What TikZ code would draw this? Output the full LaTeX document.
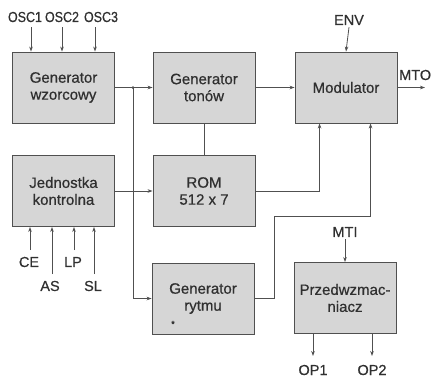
\documentclass[tikz,border=0pt]{standalone}
\usepackage{fontspec}
\setmainfont{Liberation Sans}[FakeBold=0.6]
\usetikzlibrary{arrows.meta,calc}
\definecolor{ln}{HTML}{505050}
\definecolor{bx}{HTML}{D6D6D6}
\definecolor{tx}{HTML}{303030}
\begin{document}
\begin{tikzpicture}[x=1pt,y=-1pt,
  blk/.style={draw=ln,line width=0.9pt,fill=bx,minimum width=102pt,minimum height=71pt,
    align=center,text=tx,font=\fontsize{15}{17}\selectfont,inner sep=0pt},
  lbl/.style={text=tx,font=\fontsize{14.5}{17}\selectfont,inner sep=0pt},
  osc/.style={lbl,xscale=0.86},
  wire/.style={draw=ln,line width=0.8pt},
  arr/.style={wire,-{Stealth[length=5pt,width=3.6pt]}}]
\useasboundingbox (0,0) rectangle (433,381);
% blocks
\node[blk] (gw) at (63.5,87.5) {Generator\\wzorcowy};
\node[blk] (gt) at (204,87.5) {Generator\\tonów};
\node[blk] (mod) at (346,87.5) {Modulator};
\node[blk] (jk) at (63.5,191) {Jednostka\\kontrolna};
\node[blk] (rom) at (204,191) {ROM\\512 x 7};
\node[blk] (gr) at (203,298.5) {Generator\\rytmu};
\node[blk] (pw) at (345,298) {Przedwzmac-\\niacz};
\node[text=tx,font=\small,inner sep=0pt] (star) at (173,324) {*};
% labels
\node[osc] (o1) at (25,17) {OSC1};
\node[osc] (o2) at (62,17) {OSC2};
\node[osc] (o3) at (101,17) {OSC3};
\node[lbl] (env) at (349,20) {ENV};
\node[lbl,anchor=west] (mto) at (399,75) {MTO};
\node[lbl] (mti) at (345,232) {MTI};
\node[lbl] (ce) at (29,262) {CE};
\node[lbl] (lp) at (73,262) {LP};
\node[lbl] (as) at (50,286) {AS};
\node[lbl] (sl) at (93,286) {SL};
\node[lbl] (op1) at (313,370) {OP1};
\node[lbl] (op2) at (372,370) {OP2};
% coordinates
\coordinate (j) at (133,87.5);
\coordinate (m1) at ($(mod.south west)+(25,0)$);
\coordinate (m2) at ($(mod.south west)+(76,0)$);
\coordinate (b1) at (274,216);
\coordinate (mtoe) at (425,87.5);
\coordinate (s1) at (31,27);
\coordinate (s2) at (62,27);
\coordinate (s3) at (95,27);
\coordinate (c1) at (30,250);
\coordinate (c2) at (52,274);
\coordinate (c3) at (74,250);
\coordinate (c4) at (94,274);
\coordinate (p1) at (313,356);
\coordinate (p2) at (372,356);
% inputs OSC
\draw[arr] (s1) -- (s1 |- gw.north);
\draw[arr] (s2) -- (s2 |- gw.north);
\draw[arr] (s3) -- (s3 |- gw.north);
% inputs to jednostka
\draw[arr] (c1) -- (c1 |- jk.south);
\draw[arr] (c2) -- (c2 |- jk.south);
\draw[arr] (c3) -- (c3 |- jk.south);
\draw[arr] (c4) -- (c4 |- jk.south);
% main connections
\draw[arr] (gw.east) -- (gt.west);
\fill[ln] (j) circle (1.5pt);
\draw[arr] (j) |- (gr.west);
\draw[wire] (gt.south) -- (rom.north);
\draw[arr] (gt.east) -- (mod.west);
\draw[arr] (jk.east) -- (rom.west);
\draw[arr] (rom.east) -| (m1);
\draw[wire] (gr.east) -| (b1);
\draw[arr] (b1) -| (m2);
\draw[arr] (env.south) ++(0,2) -- (mod.north);
\draw[arr] (mod.east) -- (mtoe);
\draw[arr] (mti.south) ++(0,2) -- (pw.north);
\draw[arr] (p1 |- pw.south) -- (p1);
\draw[arr] (p2 |- pw.south) -- (p2);
\end{tikzpicture}
\end{document}
